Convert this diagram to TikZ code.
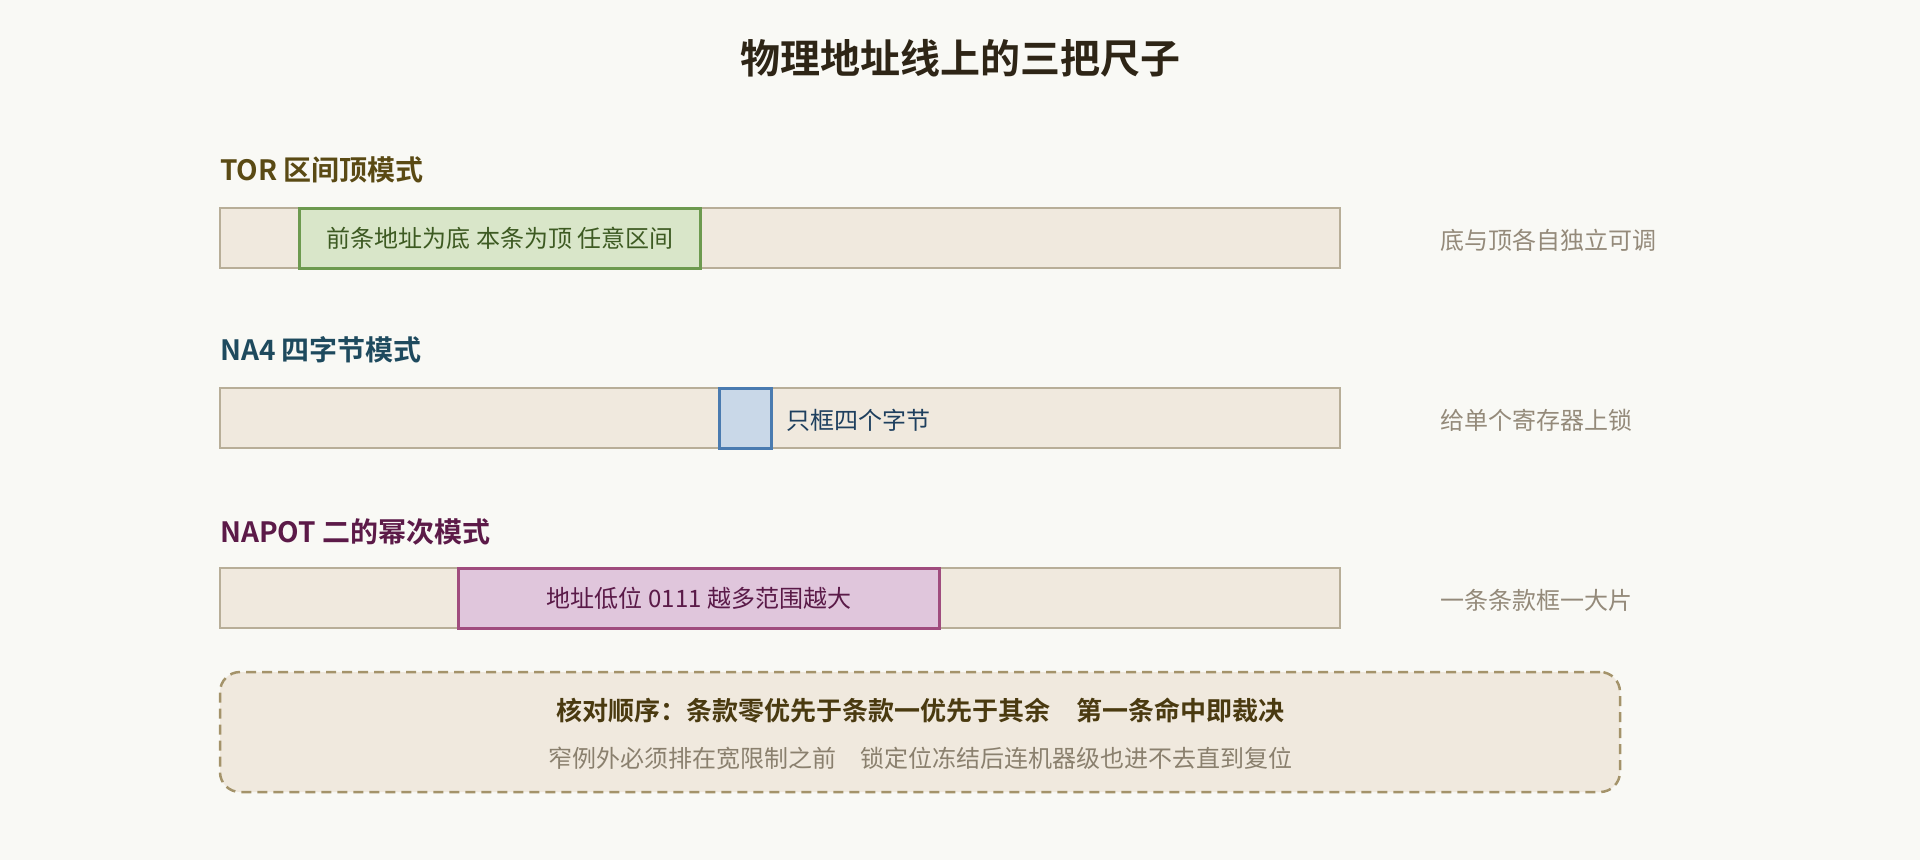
\documentclass[tikz,border=0pt]{standalone}
\usepackage{fontspec}
\setmainfont{Noto Sans CJK SC}[BoldFont={* Bold}]
\definecolor{bgcol}{HTML}{F9F9F5}
\definecolor{titlecol}{HTML}{2E2516}
\definecolor{torcol}{HTML}{5A4A14}
\definecolor{nacol}{HTML}{1E4A5E}
\definecolor{napotcol}{HTML}{5C1A48}
\definecolor{barfill}{HTML}{F0E9DE}
\definecolor{barline}{HTML}{B8AE98}
\definecolor{greenfill}{HTML}{D9E6C9}
\definecolor{greenline}{HTML}{6D9A4F}
\definecolor{greentext}{HTML}{3D5A22}
\definecolor{bluefill}{HTML}{C9D8E8}
\definecolor{blueline}{HTML}{4A7BB0}
\definecolor{bluetext}{HTML}{1E3F5E}
\definecolor{purplefill}{HTML}{E0C6DC}
\definecolor{purpleline}{HTML}{A04C7E}
\definecolor{purpletext}{HTML}{5A1A48}
\definecolor{sidecol}{HTML}{948A7A}
\definecolor{noteline}{HTML}{A4936A}
\definecolor{notebold}{HTML}{4A3A10}
\definecolor{notegray}{HTML}{8A806E}

\begin{document}
\begin{tikzpicture}[x=1pt, y=-1pt,
	tag/.style={anchor=west, inner sep=0pt, font=\fontsize{28}{32}\selectfont\bfseries},
	bar/.style={draw=barline, fill=barfill, line width=1.5pt, minimum width=1120pt, minimum height=60pt, inner sep=0pt},
	span/.style={line width=3pt, minimum height=60pt, inner sep=0pt, font=\fontsize{24}{28}\selectfont},
	side/.style={anchor=west, inner sep=0pt, text=sidecol, font=\fontsize{24}{28}\selectfont}]
	\fill [bgcol] (0,0) rectangle (1920,860);
	\useasboundingbox (0,0) rectangle (1920,860);

	\node [inner sep=0pt, text=titlecol, font=\fontsize{40}{46}\selectfont\bfseries] (title) at (960,58) {物理地址线上的三把尺子};

	% TOR
	\node [tag, text=torcol] (torlabel) at (220,170) {TOR 区间顶模式};
	\node [bar] (torbar) at (780,238) {};
	\node [span, draw=greenline, fill=greenfill, text=greentext, minimum width=401pt] (torspan) at (500,238) {前条地址为底 本条为顶 任意区间};
	\node [side] (torside) at (1440,240) {底与顶各自独立可调};

	% NA4
	\node [tag, text=nacol] (nalabel) at (220,350) {NA4 四字节模式};
	\node [bar] (nabar) at (780,418) {};
	\node [span, draw=blueline, fill=bluefill, minimum width=52pt] (naspan) at (745,418) {};
	\node [anchor=west, inner sep=0pt, text=bluetext, font=\fontsize{24}{28}\selectfont] (natext) at (786,420) {只框四个字节};
	\node [side] (naside) at (1440,420) {给单个寄存器上锁};

	% NAPOT
	\node [tag, text=napotcol] (napotlabel) at (220,532) {NAPOT 二的幂次模式};
	\node [bar] (napotbar) at (780,598) {};
	\node [span, draw=purpleline, fill=purplefill, text=purpletext, minimum width=481pt] (napotspan) at (699,598) {地址低位 0111 越多范围越大};
	\node [side] (napotside) at (1440,600) {一条条款框一大片};

	% note
	\node [draw=noteline, fill=barfill, line width=2.5pt, dash pattern=on 10pt off 6pt, rounded corners=20pt, minimum width=1400pt, minimum height=120pt] (note) at (920,732) {};
	\node [inner sep=0pt, text=notebold, font=\fontsize{26}{30}\selectfont\bfseries] (notemain) at (920,711) {核对顺序：条款零优先于条款一优先于其余\quad 第一条命中即裁决};
	\node [inner sep=0pt, text=notegray, font=\fontsize{24}{28}\selectfont] (notesub) at (920,758) {窄例外必须排在宽限制之前\quad 锁定位冻结后连机器级也进不去直到复位};
\end{tikzpicture}
\end{document}
